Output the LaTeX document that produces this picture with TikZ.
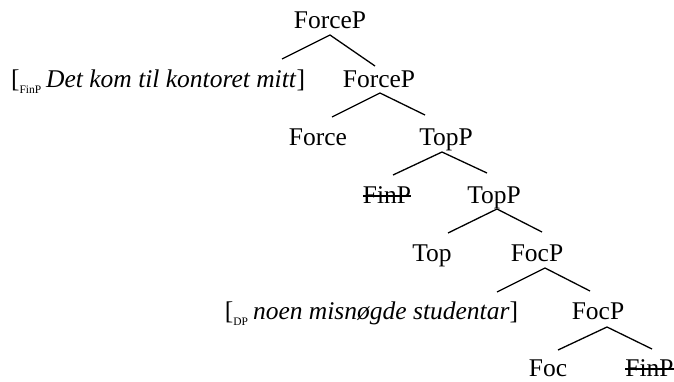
\documentclass[tikz,border=0pt]{standalone}
\usepackage{fontspec}
\setmainfont{Liberation Serif}
\usetikzlibrary{calc}
\newcommand{\lab}[1]{\raisebox{-6pt}{\fontsize{11.5}{12}\selectfont #1}}
\begin{document}
\begin{tikzpicture}[x=1pt,y=-1pt,
  every node/.style={inner sep=0pt,outer sep=0pt,anchor=base,font=\fontsize{25.5}{30}\selectfont},
  phrase/.style={anchor=base east},
  branch/.style={line width=1.3pt},
  strike/.style={line width=1.1pt}]
\useasboundingbox (0,0) rectangle (674,381);
\node (n1) at (330,28) {ForceP};
\node[phrase] (p1) at (305,87) {[\lab{FinP}\hspace{5pt}\textit{Det kom til kontoret mitt}]};
\node (n2) at (379,87) {ForceP};
\node (n3) at (318,145) {Force};
\node (n4) at (446,145) {TopP};
\node (n5) at (387,203) {FinP};
\node (n6) at (494,203) {TopP};
\node (n7) at (432,261.2) {Top};
\node (n8) at (537,261.2) {FocP};
\node[phrase] (p2) at (518,319.5) {[\lab{DP}\hspace{5pt}\textit{noen misnøgde studentar}]};
\node (n9) at (598,319.5) {FocP};
\node (n10) at (548,376) {Foc};
\node (n11) at (649.5,376) {FinP};
% strike-outs
\draw[strike] ($(n5.base west)+(0,-7)$) -- ($(n5.base east)+(0,-7)$);
\draw[strike] ($(n11.base west)+(0,-7)$) -- ($(n11.base east)+(0,-7)$);
% branches
\draw[branch] ($(p1.base east)+(-23,-28)$) -- ($(n1.base)+(0,7)$) -- ($(n2.base)+(-4,-21)$);
\draw[branch] ($(n3.base)+(14,-28)$) -- ($(n2.base)+(1,6)$) -- ($(n4.base)+(-21,-30)$);
\draw[branch] ($(n5.base)+(6,-28)$) -- ($(n4.base)+(-4,7)$) -- ($(n6.base)+(-7,-30)$);
\draw[branch] ($(n7.base)+(16,-28.2)$) -- ($(n6.base)+(3,6)$) -- ($(n8.base)+(5,-29.2)$);
\draw[branch] ($(p2.base east)+(-21,-27.5)$) -- ($(n8.base)+(8,6.8)$) -- ($(n9.base)+(-8,-28.5)$);
\draw[branch] ($(n10.base)+(10,-26)$) -- ($(n9.base)+(9,7.5)$) -- ($(n11.base)+(2.5,-27)$);
\end{tikzpicture}
\end{document}
